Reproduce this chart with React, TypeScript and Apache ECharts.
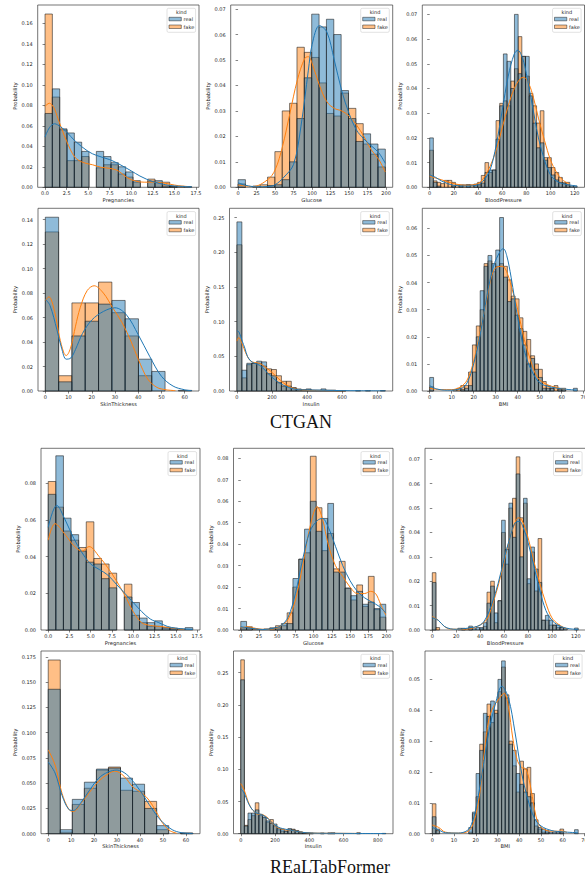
import React, { useEffect, useRef } from "react";
import * as echarts from "echarts";

// ---------------- DATA ----------------
// Tick labels
const ticksPreg = [0, 2.5, 5, 7.5, 10, 12.5, 15, 17.5];
const ticksGlucose = [0, 25, 50, 75, 100, 125, 150, 175, 200];
const ticksBP = [0, 20, 40, 60, 80, 100, 120];
const ticksSkin = [0, 10, 20, 30, 40, 50, 60];
const ticksInsulin = [0, 200, 400, 600, 800];
const ticksBMI = [0, 10, 20, 30, 40, 50, 60, 70];
const yTicks016 = [0, 0.02, 0.04, 0.06, 0.08, 0.1, 0.12, 0.14, 0.16];
const yTicks007 = [0, 0.01, 0.02, 0.03, 0.04, 0.05, 0.06, 0.07];
const yTicks014 = [0, 0.02, 0.04, 0.06, 0.08, 0.1, 0.12, 0.14];
const yTicks025 = [0, 0.05, 0.1, 0.15, 0.2, 0.25];
const yTicks006 = [0, 0.01, 0.02, 0.03, 0.04, 0.05, 0.06];
const yTicks008a = [0, 0.02, 0.04, 0.06, 0.08];
const yTicks008b = [0, 0.01, 0.02, 0.03, 0.04, 0.05, 0.06, 0.07, 0.08];
const yTicks0175 = [0, 0.025, 0.05, 0.075, 0.1, 0.125, 0.15, 0.175];
const yTicks005 = [0, 0.01, 0.02, 0.03, 0.04, 0.05];

// CTGAN - Pregnancies
const ctPregBins = { start: 0, width: 0.85 };
const ctPregReal = [0.072, 0.096, 0.057, 0.053, 0.044, 0.035, 0, 0.035, 0.03, 0.024, 0.02, 0.015, 0.0065, 0, 0.006, 0.0065, 0.0013, 0.0007, 0, 0.0007];
const ctPregFake = [0.169, 0.088, 0.056, 0.026, 0.026, 0.03, 0, 0.019, 0.022, 0.022, 0.013, 0.01, 0.005, 0, 0.008, 0.005, 0.005, 0.001, 0.001, 0];
const ctPregKdeReal = [[0, 0.049], [0.5, 0.058], [1.1, 0.062], [1.8, 0.059], [2.5, 0.054], [3.5, 0.045], [5, 0.035], [6, 0.031], [7.5, 0.027], [8.5, 0.023], [10, 0.016], [11, 0.011], [12.5, 0.0055], [14, 0.0025], [15, 0.0013], [17, 0.0004]];
const ctPregKdeFake = [[0, 0.079], [0.5, 0.082], [1, 0.078], [1.5, 0.067], [2.5, 0.045], [3.5, 0.029], [4.5, 0.024], [5.5, 0.022], [6.5, 0.0195], [7.5, 0.0185], [8.5, 0.016], [9.5, 0.0095], [10.5, 0.006], [11.5, 0.005], [12.5, 0.005], [13.5, 0.0045], [14.5, 0.003], [15.5, 0.0015], [16.5, 0.0008]];

// CTGAN - Glucose
const ctGluBins = { start: 0, width: 9.95 };
const ctGluReal = [0.003, 0, 0, 0, 0.0007, 0.001, 0.003, 0.01, 0.027, 0.043, 0.068, 0.063, 0.066, 0.06, 0.038, 0.027, 0.018, 0.021, 0.017, 0.015];
const ctGluFake = [0.0013, 0, 0.0005, 0.001, 0.004, 0.014, 0.03, 0.033, 0.055, 0.053, 0.051, 0.041, 0.029, 0.028, 0.037, 0.031, 0.025, 0.017, 0.013, 0.008];
const ctGluKdeReal = [[0, 0.0018], [10, 0.0008], [25, 0.0002], [40, 0.0003], [50, 0.001], [62, 0.004], [75, 0.009], [85, 0.024], [95, 0.046], [100, 0.056], [110, 0.0635], [120, 0.061], [130, 0.05], [140, 0.038], [150, 0.029], [160, 0.0225], [170, 0.019], [180, 0.0163], [190, 0.0136], [199, 0.0094]];
const ctGluKdeFake = [[0, 0.0009], [20, 0.0003], [40, 0.003], [50, 0.0068], [60, 0.016], [70, 0.029], [80, 0.042], [90, 0.0506], [95, 0.0513], [100, 0.0487], [110, 0.04], [120, 0.0336], [130, 0.031], [140, 0.03], [150, 0.028], [160, 0.0245], [170, 0.02], [180, 0.0147], [190, 0.011], [199, 0.006]];

// CTGAN - BloodPressure
const ctBPBins = { start: 0, width: 3.05 };
const ctBPReal = [0.02, 0.002, 0.0005, 0, 0, 0, 0.0005, 0, 0.0005, 0, 0.001, 0, 0.0013, 0.001, 0.0017, 0.006, 0.007, 0.007, 0.0195, 0.033, 0.054, 0.051, 0.04, 0.07, 0.046, 0.053, 0.053, 0.037, 0.026, 0.016, 0.018, 0.011, 0.008, 0.005, 0.003, 0.002, 0.0015, 0.001, 0.0005, 0.0005];
const ctBPFake = [0.015, 0.0026, 0.002, 0.0015, 0.0028, 0.0028, 0.002, 0.001, 0.001, 0.001, 0.001, 0.001, 0.001, 0.002, 0.0048, 0.01, 0.006, 0.007, 0.027, 0.034, 0.035, 0.033, 0.043, 0.048, 0.061, 0.053, 0.045, 0.038, 0.033, 0.026, 0.031, 0.012, 0.012, 0.008, 0.006, 0.004, 0.002, 0.002, 0, 0];
const ctBPKdeReal = [[0, 0.005], [5, 0.004], [10, 0.0025], [20, 0.0008], [30, 0.0005], [40, 0.001], [45, 0.003], [50, 0.007], [55, 0.017], [60, 0.031], [65, 0.045], [70, 0.054], [73, 0.0555], [77, 0.052], [80, 0.046], [85, 0.033], [90, 0.02], [95, 0.011], [100, 0.005], [105, 0.0025], [110, 0.0015], [115, 0.001], [122, 0.0005]];
const ctBPKdeFake = [[0, 0.0045], [10, 0.003], [20, 0.0015], [30, 0.0008], [40, 0.0015], [45, 0.004], [50, 0.0085], [55, 0.015], [60, 0.024], [65, 0.033], [70, 0.04], [75, 0.044], [78, 0.0445], [82, 0.042], [86, 0.036], [90, 0.028], [95, 0.019], [100, 0.011], [105, 0.006], [110, 0.003], [115, 0.0015]];

// CTGAN - SkinThickness
const ctSkinBins = { start: 0, width: 5.727 };
const ctSkinReal = [0.142, 0.0075, 0.045, 0.057, 0.071, 0.074, 0.059, 0.026, 0.016, 0, 0.0005];
const ctSkinFake = [0.13, 0.0125, 0.072, 0.072, 0.089, 0.064, 0.045, 0.0125, 0, 0, 0];
const ctSkinKdeReal = [[0, 0.075], [2, 0.07], [5, 0.05], [7, 0.035], [9, 0.026], [11, 0.027], [13, 0.034], [16, 0.047], [20, 0.058], [25, 0.065], [30, 0.068], [35, 0.062], [40, 0.046], [45, 0.028], [50, 0.012], [55, 0.004], [60, 0.001], [63, 0.0003]];
const ctSkinKdeFake = [[0, 0.074], [1.5, 0.077], [4, 0.065], [6, 0.045], [8, 0.031], [9, 0.029], [11, 0.036], [13, 0.053], [15, 0.068], [18, 0.082], [21, 0.086], [25, 0.08], [29, 0.068], [33, 0.056], [37, 0.04], [40, 0.026], [44, 0.01], [48, 0.003], [52, 0.001], [56, 0.0003]];

// CTGAN - Insulin
const ctInsBins = { start: 0, width: 28.2 };
const ctInsReal = [0.244, 0.03, 0.04, 0.04, 0.043, 0.042, 0.025, 0.022, 0.012, 0.007, 0.007, 0.004, 0.002, 0.001, 0.003, 0.001, 0.001, 0.003, 0.001, 0.001, 0.0007, 0.0007, 0, 0, 0.0005, 0, 0.0005, 0, 0, 0.0005];
const ctInsFake = [0.211, 0.019, 0.038, 0.04, 0.04, 0.036, 0.032, 0.031, 0.022, 0.014, 0.014, 0.005, 0.003, 0.002, 0.002, 0.001, 0.001, 0.001, 0.001, 0.001, 0.0005, 0.0005, 0, 0, 0, 0, 0, 0, 0, 0];
const ctInsKdeReal = [[0, 0.087], [12, 0.085], [30, 0.072], [45, 0.062], [60, 0.05], [80, 0.043], [100, 0.04], [130, 0.037], [160, 0.03], [195, 0.021], [240, 0.012], [295, 0.005], [350, 0.002], [400, 0.0015], [500, 0.001], [600, 0.0006], [700, 0.0003], [846, 0.0002]];
const ctInsKdeFake = [[0, 0.072], [10, 0.077], [30, 0.068], [50, 0.055], [75, 0.044], [100, 0.041], [130, 0.04], [160, 0.035], [190, 0.029], [220, 0.022], [250, 0.015], [280, 0.009], [320, 0.004], [370, 0.0015], [450, 0.0008], [550, 0.0004], [620, 0.0002]];

// CTGAN - BMI
const ctBMIBins = { start: 0, width: 1.766 };
const ctBMIReal = [0.005, 0, 0, 0, 0, 0, 0, 0, 0.0005, 0.001, 0.002, 0.007, 0.02, 0.037, 0.046, 0.05, 0.047, 0.052, 0.064, 0.042, 0.033, 0.034, 0.028, 0.023, 0.017, 0.01, 0.012, 0.008, 0.005, 0.001, 0.001, 0.001, 0, 0.0005, 0.0005, 0, 0, 0.001];
const ctBMIFake = [0.0015, 0, 0, 0, 0, 0, 0.0005, 0.001, 0.002, 0.002, 0.007, 0.017, 0.024, 0.03, 0.047, 0.048, 0.044, 0.046, 0.047, 0.046, 0.041, 0.035, 0.034, 0.027, 0.022, 0.019, 0.013, 0.01, 0.008, 0.0035, 0.002, 0.001, 0.002, 0.001, 0.001, 0, 0, 0];
const ctBMIKdeReal = [[0, 0.002], [3, 0.0008], [8, 0.0003], [14, 0.0008], [17, 0.003], [20, 0.01], [23, 0.021], [26, 0.035], [29, 0.046], [32, 0.0515], [33.5, 0.0525], [35, 0.05], [37, 0.042], [40, 0.027], [43, 0.015], [46, 0.008], [50, 0.003], [55, 0.0015], [60, 0.0008], [67, 0.0003]];
const ctBMIKdeFake = [[0, 0.001], [5, 0.0005], [10, 0.0005], [14, 0.0015], [17, 0.004], [20, 0.011], [23, 0.022], [26, 0.034], [28, 0.042], [30, 0.0455], [33, 0.046], [35, 0.044], [38, 0.036], [40, 0.03], [43, 0.019], [46, 0.011], [49, 0.005], [53, 0.0025], [58, 0.0012], [62, 0.0005]];

// REaLTabFormer - Pregnancies
const rtPregBins = { start: 0, width: 0.8947 };
const rtPregReal = [0.074, 0.095, 0.061, 0.052, 0.043, 0.037, 0.036, 0.028, 0.023, 0, 0.018, 0.015, 0.0065, 0.004, 0.005, 0.0013, 0.001, 0.0005, 0.0013];
const rtPregFake = [0.081, 0.067, 0.054, 0.049, 0.045, 0.059, 0.039, 0.036, 0.031, 0, 0.025, 0.008, 0.004, 0.002, 0.002, 0.001, 0.0005, 0, 0];
const rtPregKdeReal = [[0, 0.056], [1, 0.068], [2, 0.06], [3, 0.05], [4, 0.042], [5, 0.036], [6, 0.033], [7, 0.03], [8, 0.025], [9, 0.02], [10, 0.015], [11, 0.01], [12, 0.006], [13, 0.004], [14, 0.002], [15, 0.001], [17, 0.0003]];
const rtPregKdeFake = [[0, 0.049], [0.8, 0.058], [2, 0.052], [3, 0.046], [4, 0.043], [4.8, 0.0455], [6, 0.04], [7, 0.034], [8, 0.027], [9, 0.019], [10, 0.01], [11, 0.004], [12, 0.0025], [13, 0.002], [14, 0.0015], [15, 0.0008], [16, 0.0003]];

// REaLTabFormer - Glucose
const rtGluBins = { start: 0, width: 7.96 };
const rtGluReal = [0.004, 0.001, 0, 0, 0, 0.001, 0.001, 0.003, 0.003, 0.024, 0.033, 0.047, 0.06, 0.046, 0.052, 0.059, 0.027, 0.027, 0.0195, 0.016, 0.018, 0.012, 0.013, 0.01, 0.012];
const rtGluFake = [0.001, 0.0015, 0.0005, 0.0003, 0.0005, 0.0008, 0.002, 0.002, 0.008, 0.02, 0.033, 0.036, 0.081, 0.057, 0.037, 0.045, 0.0285, 0.032, 0.0195, 0.014, 0.021, 0.011, 0.025, 0.0095, 0.006];
const rtGluKdeReal = [[0, 0.0015], [15, 0.0008], [30, 0.0002], [45, 0.0008], [55, 0.002], [65, 0.006], [75, 0.017], [85, 0.033], [95, 0.046], [105, 0.051], [112, 0.052], [120, 0.048], [130, 0.039], [140, 0.03], [150, 0.023], [160, 0.018], [170, 0.015], [180, 0.013], [190, 0.011], [199, 0.008]];
const rtGluKdeFake = [[0, 0.001], [10, 0.0015], [20, 0.0008], [30, 0.0003], [45, 0.0005], [55, 0.002], [65, 0.005], [75, 0.014], [85, 0.03], [95, 0.048], [105, 0.0575], [112, 0.052], [120, 0.04], [130, 0.03], [140, 0.025], [150, 0.02], [160, 0.017], [170, 0.017], [178, 0.018], [185, 0.017], [192, 0.012], [199, 0.007]];

// REaLTabFormer - BloodPressure
const rtBPBins = { start: 0, width: 3.05 };
const rtBPReal = [0.0195, 0, 0, 0, 0, 0, 0, 0.0007, 0.0007, 0.0005, 0.0016, 0.0005, 0.001, 0.001, 0.003, 0.011, 0.018, 0.007, 0.012, 0.045, 0.033, 0.052, 0.038, 0.064, 0.03, 0.054, 0.021, 0.034, 0.025, 0.0195, 0.004, 0.006, 0.004, 0.002, 0.002, 0.001, 0.0005, 0, 0, 0.0008];
const rtBPFake = [0.0235, 0.001, 0, 0, 0, 0, 0, 0, 0.0005, 0, 0.001, 0, 0, 0.0005, 0.0015, 0.0155, 0.02, 0.003, 0.012, 0.04, 0.027, 0.05, 0.054, 0.071, 0.046, 0.052, 0.019, 0.032, 0.016, 0.0375, 0.004, 0.004, 0.002, 0.002, 0.001, 0.001, 0, 0, 0, 0];
const rtBPKdeReal = [[0, 0.005], [5, 0.004], [10, 0.0015], [15, 0.0005], [20, 0.0003], [30, 0.0008], [40, 0.002], [45, 0.005], [50, 0.011], [55, 0.019], [60, 0.029], [65, 0.038], [70, 0.0443], [73, 0.0445], [76, 0.042], [80, 0.036], [85, 0.026], [90, 0.016], [95, 0.008], [100, 0.004], [105, 0.002], [110, 0.001], [115, 0.0005], [122, 0.0002]];
const rtBPKdeFake = [[0, 0.0055], [5, 0.004], [10, 0.0015], [15, 0.0004], [25, 0.0003], [35, 0.001], [45, 0.004], [50, 0.01], [55, 0.018], [60, 0.028], [65, 0.038], [70, 0.045], [72, 0.046], [75, 0.045], [80, 0.038], [85, 0.028], [90, 0.019], [95, 0.011], [100, 0.005], [105, 0.0025], [110, 0.001], [113, 0.0005]];

// REaLTabFormer - SkinThickness
const rtSkinBins = { start: 0, width: 5.25 };
const rtSkinReal = [0.143, 0.004, 0.034, 0.051, 0.064, 0.065, 0.055, 0.049, 0.025, 0.008, 0, 0.0007];
const rtSkinFake = [0.172, 0.0015, 0.029, 0.045, 0.063, 0.066, 0.043, 0.042, 0.032, 0.004, 0, 0.0005];
const rtSkinKdeReal = [[0, 0.071], [3, 0.06], [6, 0.038], [9, 0.024], [11, 0.023], [14, 0.03], [18, 0.043], [22, 0.055], [26, 0.061], [30, 0.063], [34, 0.059], [38, 0.049], [42, 0.036], [46, 0.022], [50, 0.011], [54, 0.004], [58, 0.001], [63, 0.0002]];
const rtSkinKdeFake = [[0, 0.083], [3, 0.068], [6, 0.04], [9, 0.024], [11, 0.022], [14, 0.029], [18, 0.041], [22, 0.052], [26, 0.059], [29, 0.062], [33, 0.057], [37, 0.046], [41, 0.04], [44, 0.033], [47, 0.022], [50, 0.01], [53, 0.003], [56, 0.0005]];

// REaLTabFormer - Insulin
const rtInsBins = { start: 0, width: 21.15 };
const rtInsReal = [0.239, 0.012, 0.032, 0.032, 0.037, 0.03, 0.026, 0.02, 0.016, 0.015, 0.008, 0.007, 0.004, 0.008, 0.006, 0.004, 0.002, 0.001, 0.001, 0.001, 0, 0, 0.001, 0, 0.001, 0.0015, 0, 0, 0, 0, 0, 0, 0.0005, 0, 0, 0, 0, 0, 0, 0.0005];
const rtInsFake = [0.27, 0.013, 0.022, 0.028, 0.048, 0.028, 0.025, 0.018, 0.022, 0.012, 0.006, 0.004, 0.004, 0.006, 0.007, 0.005, 0.003, 0.0015, 0.001, 0.0005, 0, 0, 0.0005, 0, 0.001, 0.0005, 0, 0, 0, 0, 0, 0, 0.0015, 0, 0, 0, 0, 0, 0, 0];
const rtInsKdeReal = [[0, 0.07], [20, 0.063], [40, 0.05], [60, 0.04], [80, 0.034], [100, 0.031], [120, 0.03], [140, 0.027], [160, 0.023], [180, 0.018], [200, 0.013], [230, 0.009], [260, 0.007], [300, 0.005], [340, 0.003], [380, 0.0015], [450, 0.0008], [550, 0.0006], [650, 0.0004], [846, 0.0002]];
const rtInsKdeFake = [[0, 0.078], [20, 0.068], [40, 0.052], [60, 0.04], [80, 0.034], [100, 0.03], [120, 0.03], [140, 0.028], [160, 0.024], [180, 0.018], [200, 0.012], [230, 0.008], [260, 0.006], [300, 0.005], [340, 0.003], [380, 0.0015], [450, 0.0008], [550, 0.0006], [690, 0.0004]];

// REaLTabFormer - BMI
const rtBMIBins = { start: 0, width: 1.6775 };
const rtBMIReal = [0.0055, 0.001, 0, 0, 0, 0, 0, 0, 0, 0, 0.002, 0.007, 0.0195, 0.027, 0.039, 0.038, 0.043, 0.039, 0.05, 0.056, 0.044, 0.029, 0.027, 0.0195, 0.016, 0.0135, 0.012, 0.01, 0.0045, 0.002, 0.0015, 0.001, 0.0005, 0.0005, 0.0005, 0.0005, 0, 0, 0, 0.0013];
const rtBMIFake = [0.0097, 0.0015, 0, 0, 0, 0, 0, 0, 0, 0, 0.0005, 0.0065, 0.012, 0.029, 0.033, 0.042, 0.036, 0.04, 0.046, 0.054, 0.045, 0.03, 0.022, 0.0135, 0.0235, 0.021, 0.0215, 0.013, 0.0025, 0.0015, 0.0005, 0.0005, 0, 0, 0, 0.0015, 0, 0, 0, 0];
const rtBMIKdeReal = [[0, 0.002], [3, 0.0012], [6, 0.0003], [12, 0.0002], [16, 0.001], [18, 0.003], [20, 0.008], [23, 0.02], [26, 0.033], [29, 0.042], [32, 0.0478], [35, 0.044], [38, 0.033], [41, 0.02], [44, 0.011], [47, 0.005], [50, 0.0025], [55, 0.001], [60, 0.0006], [67, 0.0003]];
const rtBMIKdeFake = [[0, 0.0028], [3, 0.002], [6, 0.0005], [12, 0.0002], [16, 0.0006], [18, 0.002], [20, 0.006], [22, 0.014], [24, 0.027], [26, 0.037], [28, 0.041], [30, 0.043], [33, 0.0455], [35, 0.041], [37, 0.031], [39, 0.024], [41, 0.0215], [43, 0.021], [45, 0.016], [47, 0.008], [49, 0.003], [52, 0.0012], [56, 0.0008], [60, 0.0008], [62, 0.0004]];

const captions = ["CTGAN", "REaLTabFormer"];
const legendTitle = "kind";
const legendNames = ["real", "fake"];

// ---------------- PANEL DEFINITIONS ----------------
const panelData = [
  { xName: "Pregnancies", bins: ctPregBins, real: ctPregReal, fake: ctPregFake, kReal: ctPregKdeReal, kFake: ctPregKdeFake, xTicks: ticksPreg, yTicks: yTicks016, xDec: 1, yDec: 2 },
  { xName: "Glucose", bins: ctGluBins, real: ctGluReal, fake: ctGluFake, kReal: ctGluKdeReal, kFake: ctGluKdeFake, xTicks: ticksGlucose, yTicks: yTicks007, xDec: 0, yDec: 2 },
  { xName: "BloodPressure", bins: ctBPBins, real: ctBPReal, fake: ctBPFake, kReal: ctBPKdeReal, kFake: ctBPKdeFake, xTicks: ticksBP, yTicks: yTicks007, xDec: 0, yDec: 2 },
  { xName: "SkinThickness", bins: ctSkinBins, real: ctSkinReal, fake: ctSkinFake, kReal: ctSkinKdeReal, kFake: ctSkinKdeFake, xTicks: ticksSkin, yTicks: yTicks014, xDec: 0, yDec: 2 },
  { xName: "Insulin", bins: ctInsBins, real: ctInsReal, fake: ctInsFake, kReal: ctInsKdeReal, kFake: ctInsKdeFake, xTicks: ticksInsulin, yTicks: yTicks025, xDec: 0, yDec: 2 },
  { xName: "BMI", bins: ctBMIBins, real: ctBMIReal, fake: ctBMIFake, kReal: ctBMIKdeReal, kFake: ctBMIKdeFake, xTicks: ticksBMI, yTicks: yTicks006, xDec: 0, yDec: 2 },
  { xName: "Pregnancies", bins: rtPregBins, real: rtPregReal, fake: rtPregFake, kReal: rtPregKdeReal, kFake: rtPregKdeFake, xTicks: ticksPreg, yTicks: yTicks008a, xDec: 1, yDec: 2 },
  { xName: "Glucose", bins: rtGluBins, real: rtGluReal, fake: rtGluFake, kReal: rtGluKdeReal, kFake: rtGluKdeFake, xTicks: ticksGlucose, yTicks: yTicks008b, xDec: 0, yDec: 2 },
  { xName: "BloodPressure", bins: rtBPBins, real: rtBPReal, fake: rtBPFake, kReal: rtBPKdeReal, kFake: rtBPKdeFake, xTicks: ticksBP, yTicks: yTicks007, xDec: 0, yDec: 2 },
  { xName: "SkinThickness", bins: rtSkinBins, real: rtSkinReal, fake: rtSkinFake, kReal: rtSkinKdeReal, kFake: rtSkinKdeFake, xTicks: ticksSkin, yTicks: yTicks0175, xDec: 0, yDec: 3 },
  { xName: "Insulin", bins: rtInsBins, real: rtInsReal, fake: rtInsFake, kReal: rtInsKdeReal, kFake: rtInsKdeFake, xTicks: ticksInsulin, yTicks: yTicks025, xDec: 0, yDec: 2 },
  { xName: "BMI", bins: rtBMIBins, real: rtBMIReal, fake: rtBMIFake, kReal: rtBMIKdeReal, kFake: rtBMIKdeFake, xTicks: ticksBMI, yTicks: yTicks005, xDec: 0, yDec: 2 },
];

// ---------------- LAYOUT (pixels + axis extents) ----------------
const layout = [
  { left: 37.7, top: 5, right: 199, bottom: 187.3, xMin: -0.85, xMax: 17.85, yMax: 0.1778 },
  { left: 230.7, top: 5, right: 392.7, bottom: 187.3, xMin: -9.95, xMax: 208.95, yMax: 0.0716 },
  { left: 422.3, top: 5, right: 584.5, bottom: 187.3, xMin: -6.1, xMax: 128.1, yMax: 0.0738 },
  { left: 38, top: 208.3, right: 199, bottom: 391, xMin: -3.15, xMax: 66.15, yMax: 0.1493 },
  { left: 229.5, top: 208.3, right: 392.7, bottom: 391, xMin: -42.3, xMax: 888.3, yMax: 0.2636 },
  { left: 422.3, top: 208.3, right: 584.7, bottom: 391, xMin: -3.355, xMax: 70.455, yMax: 0.0674 },
  { left: 41, top: 448.3, right: 200, bottom: 630, xMin: -0.85, xMax: 17.85, yMax: 0.0991 },
  { left: 233.5, top: 448.3, right: 393, bottom: 630, xMin: -9.95, xMax: 208.95, yMax: 0.0847 },
  { left: 425, top: 448.3, right: 585.5, bottom: 630, xMin: -6.1, xMax: 128.1, yMax: 0.0745 },
  { left: 41, top: 651, right: 200, bottom: 833.7, xMin: -3.15, xMax: 66.15, yMax: 0.1809 },
  { left: 233.5, top: 651, right: 393, bottom: 833.7, xMin: -42.3, xMax: 888.3, yMax: 0.2837 },
  { left: 425, top: 651, right: 585.5, bottom: 833.7, xMin: -3.355, xMax: 70.455, yMax: 0.0592 },
];
const captionPos = [
  { x: 301, y: 422 },
  { x: 330, y: 867 },
];

const REAL_FILL = "rgba(31,119,180,0.5)";
const FAKE_FILL = "rgba(255,127,14,0.5)";
const REAL_LINE = "#1f77b4";
const FAKE_LINE = "#ff7f0e";
const EDGE = "rgba(25,25,25,0.8)";
const TEXT = "#262626";
const FONT = "DejaVu Sans";

function binItems(bins: { start: number; width: number }, values: number[]) {
  const out: number[][] = [];
  values.forEach((v, k) => {
    if (v > 0) out.push([bins.start + k * bins.width, bins.start + (k + 1) * bins.width, v]);
  });
  return out;
}

function histSeries(i: number, data: number[][], fill: string, name: string) {
  return {
    type: "custom",
    name,
    xAxisIndex: i,
    yAxisIndex: i,
    data,
    encode: { x: [0, 1], y: 2 },
    silent: true,
    z: name === "real" ? 3 : 2,
    renderItem: (_params: any, api: any) => {
      const p0 = api.coord([api.value(0), 0]);
      const p1 = api.coord([api.value(1), api.value(2)]);
      return {
        type: "rect",
        shape: { x: p0[0], y: p1[1], width: p1[0] - p0[0], height: p0[1] - p1[1] },
        style: { fill, stroke: EDGE, lineWidth: 0.7 },
      };
    },
  };
}

function kdeSeries(i: number, data: number[][], color: string, z: number) {
  return {
    type: "line",
    xAxisIndex: i,
    yAxisIndex: i,
    data,
    smooth: 0.35,
    symbol: "none",
    showSymbol: false,
    silent: true,
    z,
    lineStyle: { color, width: 1 },
  };
}

function buildOption() {
  const grid: any[] = [];
  const xAxis: any[] = [];
  const yAxis: any[] = [];
  const series: any[] = [];
  const graphic: any[] = [];

  panelData.forEach((p, i) => {
    const L = layout[i];
    grid.push({
      left: L.left,
      top: L.top,
      width: L.right - L.left,
      height: L.bottom - L.top,
      show: true,
      borderColor: "#3a3a3a",
      borderWidth: 0.7,
      backgroundColor: "rgba(0,0,0,0)",
    });
    xAxis.push({
      type: "value",
      gridIndex: i,
      min: L.xMin,
      max: L.xMax,
      axisLine: { show: false },
      splitLine: { show: false },
      axisTick: { show: true, customValues: p.xTicks, length: 2.5, lineStyle: { color: "#333", width: 0.6 } },
      axisLabel: {
        customValues: p.xTicks,
        formatter: (v: number) => v.toFixed(p.xDec),
        fontSize: 5,
        color: TEXT,
        fontFamily: FONT,
        margin: 3.5,
      },
      name: p.xName,
      nameLocation: "middle",
      nameGap: 10,
      nameTextStyle: { fontSize: 5.2, color: TEXT, fontFamily: FONT },
    });
    yAxis.push({
      type: "value",
      gridIndex: i,
      min: 0,
      max: L.yMax,
      axisLine: { show: false },
      splitLine: { show: false },
      axisTick: { show: true, customValues: p.yTicks, length: 2.5, lineStyle: { color: "#333", width: 0.6 } },
      axisLabel: {
        customValues: p.yTicks,
        formatter: (v: number) => v.toFixed(p.yDec),
        fontSize: 5,
        color: TEXT,
        fontFamily: FONT,
        margin: 5,
      },
      name: "Probability",
      nameLocation: "middle",
      nameRotate: 90,
      nameGap: 17,
      nameTextStyle: { fontSize: 5.2, color: TEXT, fontFamily: FONT },
    });

    series.push(histSeries(i, binItems(p.bins, p.fake), FAKE_FILL, "fake"));
    series.push(histSeries(i, binItems(p.bins, p.real), REAL_FILL, "real"));
    series.push(kdeSeries(i, p.kFake, FAKE_LINE, 4));
    series.push(kdeSeries(i, p.kReal, REAL_LINE, 5));

    // legend box
    const R = L.right;
    const T = L.top;
    graphic.push({
      type: "group",
      z: 100,
      children: [
        { type: "rect", shape: { x: R - 32, y: T + 3.3, width: 28.6, height: 24, r: 1.5 }, style: { fill: "rgba(255,255,255,0.8)", stroke: "#cfcfcf", lineWidth: 0.6 } },
        { type: "text", x: R - 17.7, y: T + 7.4, style: { text: legendTitle, fontSize: 5, fill: TEXT, fontFamily: FONT, align: "center", verticalAlign: "middle" } },
        { type: "rect", shape: { x: R - 30, y: T + 12.3, width: 12.3, height: 3.5 }, style: { fill: REAL_FILL, stroke: EDGE, lineWidth: 0.6 } },
        { type: "text", x: R - 15.4, y: T + 14.1, style: { text: legendNames[0], fontSize: 5, fill: TEXT, fontFamily: FONT, align: "left", verticalAlign: "middle" } },
        { type: "rect", shape: { x: R - 30, y: T + 20, width: 12.3, height: 3.5 }, style: { fill: FAKE_FILL, stroke: EDGE, lineWidth: 0.6 } },
        { type: "text", x: R - 15.4, y: T + 21.8, style: { text: legendNames[1], fontSize: 5, fill: TEXT, fontFamily: FONT, align: "left", verticalAlign: "middle" } },
      ],
    });
  });

  captions.forEach((c, k) => {
    graphic.push({
      type: "text",
      x: captionPos[k].x,
      y: captionPos[k].y,
      style: { text: c, fontSize: 18, fill: "#111", fontFamily: "Liberation Serif", align: "center", verticalAlign: "middle" },
    });
  });

  return { animation: false, backgroundColor: "#ffffff", grid, xAxis, yAxis, series, graphic };
}

export default function App() {
  const ref = useRef<HTMLDivElement>(null);
  useEffect(() => {
    if (!ref.current) return;
    const chart = echarts.init(ref.current, undefined, { renderer: "svg" });
    chart.setOption(buildOption() as any);
    return () => chart.dispose();
  }, []);
  return (
    <div
      ref={ref}
      style={{ position: "fixed", left: 0, top: 0, width: 600, height: 880, background: "#fff" }}
    />
  );
}
